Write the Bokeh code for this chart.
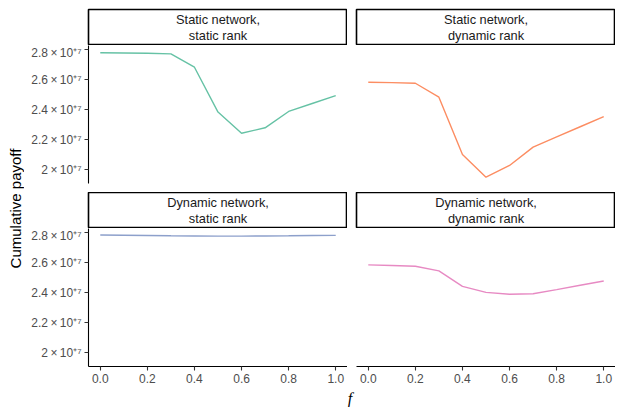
import math
from bokeh.plotting import figure
from bokeh.layouts import row, column
from bokeh.models import FixedTicker, Range1d, ColumnDataSource
from bokeh.core.properties import value
from bokeh.embed import file_html
from bokeh.resources import INLINE

# ---- data ----
f_vals = [0.0, 0.1, 0.2, 0.3, 0.4, 0.5, 0.6, 0.7, 0.8, 0.9, 1.0]
static_net_static_rank = [2.780e7, 2.779e7, 2.777e7, 2.773e7, 2.684e7, 2.385e7,
                          2.244e7, 2.280e7, 2.389e7, 2.442e7, 2.495e7]
static_net_dynamic_rank = [2.584e7, 2.581e7, 2.577e7, 2.484e7, 2.102e7, 1.951e7,
                           2.029e7, 2.151e7, 2.219e7, 2.287e7, 2.355e7]
dynamic_net_static_rank = [2.785e7, 2.784e7, 2.782e7, 2.780e7, 2.779e7, 2.778e7,
                           2.778e7, 2.779e7, 2.780e7, 2.782e7, 2.783e7]
dynamic_net_dynamic_rank = [2.586e7, 2.582e7, 2.577e7, 2.546e7, 2.443e7, 2.403e7,
                            2.390e7, 2.394e7, 2.421e7, 2.450e7, 2.479e7]
panel_titles = ["Static network,\nstatic rank", "Static network,\ndynamic rank",
                "Dynamic network,\nstatic rank", "Dynamic network,\ndynamic rank"]
series_colors = ["#66C2A5", "#FC8D62", "#8DA0CB", "#E78AC3"]
y_ticks = [2.0e7, 2.2e7, 2.4e7, 2.6e7, 2.8e7]
y_tick_labels = ["2\u2009×\u200910⁺⁷", "2.2\u2009×\u200910⁺⁷", "2.4\u2009×\u200910⁺⁷",
                 "2.6\u2009×\u200910⁺⁷", "2.8\u2009×\u200910⁺⁷"]
x_ticks = [0.0, 0.2, 0.4, 0.6, 0.8, 1.0]
x_tick_labels = ["0.0", "0.2", "0.4", "0.6", "0.8", "1.0"]
y_label = "Cumulative payoff"
x_label = "f"

FONT = "Liberation Sans"
FW = 259
FH = 138
LEFT_BORDER = 64
GAP = 9
MARGIN = 8
YLAB_W = 24
Y_LO, Y_HI = 1.9087e7, 2.8287e7


def base_fig(**kw):
    p = figure(output_backend="svg", toolbar_location=None, **kw)
    p.background_fill_color = "white"
    p.border_fill_color = "white"
    return p


def strip(title, left_border, top_border):
    p = base_fig(frame_width=FW, frame_height=36, x_range=Range1d(0, 1), y_range=Range1d(0, 1),
                 x_axis_location=None, y_axis_location=None,
                 min_border_left=left_border, min_border_right=0,
                 min_border_top=top_border, min_border_bottom=0)
    p.grid.visible = False
    p.outline_line_color = "black"
    p.outline_line_width = 1.6
    src = ColumnDataSource(dict(x=[0.5], y=[0.5], t=[title]))
    p.text(x="x", y="y", text="t", source=src, text_align="center", text_baseline="middle",
           text_font=value(FONT), text_font_size="12.8px", text_color="#1A1A1A",
           text_font_style="normal", text_line_height=1.05)
    return p


def panel(yvals, color, show_y, show_x, left_border, bottom_border):
    p = base_fig(frame_width=FW, frame_height=FH, x_range=Range1d(-0.05, 1.05),
                 y_range=Range1d(Y_LO, Y_HI),
                 x_axis_location="below" if show_x else None,
                 y_axis_location="left" if show_y else None,
                 min_border_left=left_border, min_border_right=0,
                 min_border_top=0, min_border_bottom=bottom_border)
    p.grid.visible = False
    p.outline_line_color = None
    p.line(f_vals, yvals, line_color=color, line_width=1.4)
    axes = []
    if show_y:
        ax = p.yaxis[0]
        ax.ticker = FixedTicker(ticks=y_ticks)
        ax.major_label_overrides = {t: l for t, l in zip(y_ticks, y_tick_labels)}
        axes.append(ax)
    if show_x:
        ax = p.xaxis[0]
        ax.ticker = FixedTicker(ticks=x_ticks)
        ax.major_label_overrides = {t: l for t, l in zip(x_ticks, x_tick_labels)}
        axes.append(ax)
    for ax in axes:
        ax.axis_line_color = "black"
        ax.axis_line_width = 1.1
        ax.major_tick_out = 4
        ax.major_tick_in = 0
        ax.major_tick_line_color = "#333333"
        ax.major_tick_line_width = 1.1
        ax.minor_tick_line_color = None
        ax.major_label_text_font = FONT
        ax.major_label_text_font_size = "12px"
        ax.major_label_text_color = "#4D4D4D"
        ax.major_label_standoff = 3
    return p


s_tl = strip(panel_titles[0], LEFT_BORDER, 1 + MARGIN)
s_tr = strip(panel_titles[1], GAP, 1 + MARGIN)
p_tl = panel(static_net_static_rank, series_colors[0], True, False, LEFT_BORDER, GAP)
p_tr = panel(static_net_dynamic_rank, series_colors[1], False, False, GAP, GAP)
s_bl = strip(panel_titles[2], LEFT_BORDER, 0)
s_br = strip(panel_titles[3], GAP, 0)
p_bl = panel(dynamic_net_static_rank, series_colors[2], True, True, LEFT_BORDER, 0)
p_br = panel(dynamic_net_dynamic_rank, series_colors[3], False, True, GAP, 0)

# x-axis title
total_w = LEFT_BORDER + FW + GAP + FW
fx = base_fig(frame_width=total_w, frame_height=22, x_range=Range1d(0, total_w), y_range=Range1d(0, 1),
              x_axis_location=None, y_axis_location=None,
              min_border_left=0, min_border_right=0, min_border_top=0, min_border_bottom=0)
fx.grid.visible = False
fx.outline_line_color = None
fx.text(x=[LEFT_BORDER + (FW * 2 + GAP) / 2 - 2], y=[0.42], text=[x_label], text_align="center",
        text_baseline="middle", text_font=value("Liberation Serif"), text_font_style="italic",
        text_font_size="16px", text_color="black")

right_col = column(row(s_tl, s_tr), row(p_tl, p_tr), row(s_bl, s_br), row(p_bl, p_br), fx)

FY_H = 405
fy = base_fig(frame_width=YLAB_W, frame_height=FY_H, x_range=Range1d(0, YLAB_W), y_range=Range1d(0, FY_H),
              x_axis_location=None, y_axis_location=None,
              min_border_left=0, min_border_right=0, min_border_top=0, min_border_bottom=0)
fy.grid.visible = False
fy.outline_line_color = None
fy.text(x=[15], y=[FY_H - 208], text=[y_label], angle=math.pi / 2, text_align="center",
        text_baseline="middle", text_font=value(FONT), text_font_style="normal",
        text_font_size="15px", text_color="black")

layout = row(fy, right_col)

open("out.html", "w").write(file_html(layout, INLINE))
